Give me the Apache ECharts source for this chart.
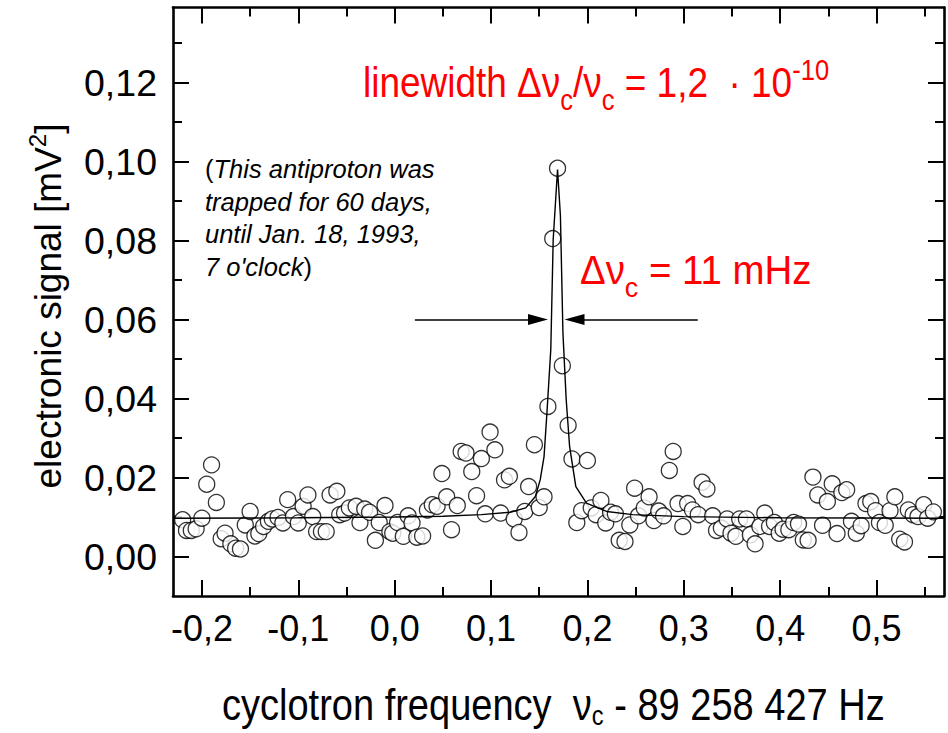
<!DOCTYPE html>
<html>
<head>
<meta charset="utf-8">
<script src="https://cdn.jsdelivr.net/npm/echarts@6/dist/echarts.min.js"></script>
<style>html,body{margin:0;padding:0;background:#fff}#c{width:948px;height:733px}</style>
</head>
<body>
<div id="c"></div>
<script>
// ---- data ----
const frequency = [
-0.220,-0.216,-0.211,-0.206,-0.200,-0.195,-0.190,-0.185,-0.180,-0.176,
-0.170,-0.165,-0.160,-0.155,-0.150,-0.145,-0.141,-0.136,-0.131,-0.127,
-0.121,-0.116,-0.111,-0.105,-0.100,-0.095,-0.090,-0.085,-0.081,-0.076,
-0.071,-0.067,-0.060,-0.057,-0.052,-0.047,-0.040,-0.036,-0.031,-0.026,
-0.020,-0.016,-0.010,-0.005,-0.002,0.003,0.009,0.014,0.018,0.023,
0.029,0.034,0.039,0.044,0.049,0.054,0.059,0.065,0.069,0.074,
0.080,0.085,0.090,0.094,0.099,0.104,0.110,0.114,0.119,0.124,
0.129,0.135,0.139,0.145,0.150,0.155,0.159,0.164,0.169,0.174,
0.180,0.184,0.189,0.194,0.200,0.204,0.209,0.214,0.219,0.224,
0.229,0.233,0.239,0.244,0.249,0.253,0.259,0.264,0.269,0.274,
0.279,0.285,0.289,0.294,0.299,0.304,0.309,0.315,0.319,0.324,
0.330,0.334,0.339,0.345,0.349,0.354,0.358,0.365,0.369,0.374,
0.379,0.384,0.389,0.394,0.399,0.403,0.409,0.414,0.419,0.424,
0.429,0.434,0.439,0.444,0.449,0.454,0.459,0.464,0.469,0.474,
0.479,0.484,0.489,0.494,0.499,0.503,0.509,0.514,0.519,0.524,
0.529,0.533,0.538,0.543,0.549,0.553,0.559
];
const signal = [
0.0093,0.0066,0.0066,0.0070,0.0097,0.0183,0.0232,0.0137,0.0045,0.0059,
0.0032,0.0021,0.0019,0.0080,0.0114,0.0052,0.0058,0.0076,0.0089,0.0095,
0.0099,0.0085,0.0144,0.0101,0.0085,0.0127,0.0156,0.0101,0.0063,0.0063,
0.0063,0.0156,0.0165,0.0106,0.0110,0.0123,0.0127,0.0086,0.0120,0.0112,
0.0041,0.0086,0.0129,0.0063,0.0059,0.0086,0.0051,0.0103,0.0085,0.0049,
0.0052,0.0118,0.0131,0.0127,0.0210,0.0151,0.0068,0.0129,0.0266,0.0262,
0.0215,0.0154,0.0248,0.0108,0.0315,0.0270,0.0110,0.0194,0.0203,0.0095,
0.0061,0.0114,0.0177,0.0283,0.0124,0.0151,0.0380,0.0805,0.0983,0.0483,
0.0332,0.0247,0.0086,0.0116,0.0243,0.0123,0.0106,0.0142,0.0085,0.0112,
0.0108,0.0041,0.0038,0.0080,0.0173,0.0103,0.0123,0.0151,0.0091,0.0115,
0.0103,0.0218,0.0266,0.0134,0.0076,0.0134,0.0118,0.0106,0.0188,0.0171,
0.0103,0.0066,0.0072,0.0095,0.0059,0.0051,0.0095,0.0095,0.0055,0.0032,
0.0076,0.0110,0.0076,0.0086,0.0059,0.0069,0.0068,0.0086,0.0082,0.0042,
0.0041,0.0201,0.0156,0.0079,0.0139,0.0184,0.0058,0.0162,0.0169,0.0089,
0.0059,0.0078,0.0134,0.0139,0.0116,0.0086,0.0079,0.0116,0.0151,0.0044,
0.0037,0.0118,0.0106,0.0101,0.0131,0.0097,0.0113
];
// fitted resonance line
const fitFrequency = [-0.23,-0.10,0.00,0.05,0.09,0.12,0.136,0.146,0.151,0.155,0.158,0.162,0.1645,0.169,0.172,0.1746,0.178,0.1815,0.188,0.199,0.22,0.247,0.30,0.40,0.57];
const fitSignal    = [0.0097,0.0098,0.0100,0.0102,0.0106,0.0112,0.0123,0.0152,0.0194,0.0253,0.0364,0.0524,0.0803,0.0980,0.0862,0.0566,0.0397,0.0279,0.0177,0.0135,0.0114,0.0106,0.0101,0.0098,0.0097];
// width arrows (tail x, head x) at height arrowLevel
const arrowLevel = 0.06;
const leftArrow  = [0.021, 0.1487];
const rightArrow = [0.3145, 0.1866];
// axes
const xRange = [-0.23, 0.57];
const yRange = [-0.01, 0.139];
const xMajorTicks = [-0.2,-0.1,0.0,0.1,0.2,0.3,0.4,0.5];
const xMinorTicks = [-0.15,-0.05,0.05,0.15,0.25,0.35,0.45,0.55];
const yMajorTicks = [0.00,0.02,0.04,0.06,0.08,0.10,0.12];
const yMinorTicks = [0.01,0.03,0.05,0.07,0.09,0.11,0.13];
const xTickLabels = ['-0,2','-0,1','0,0','0,1','0,2','0,3','0,4','0,5'];
const yTickLabels = ['0,00','0,02','0,04','0,06','0,08','0,10','0,12'];

const FONT = "'Liberation Sans', Arial, Helvetica, sans-serif";
const RED = '#ff0000';

function axisBase(kind, pos, ticks, len, showLine, labels) {
  const a = {
    type: 'value', position: pos, min: (kind==='x'?xRange:yRange)[0], max: (kind==='x'?xRange:yRange)[1],
    splitLine: {show:false},
    axisLine: {show: showLine, onZero:false, lineStyle:{color:'#000', width:2.6}},
    axisTick: {show:true, inside:true, length:len, customValues: ticks, lineStyle:{color:'#000', width:2}},
    axisLabel: {show:false}
  };
  if (labels) {
    const lbl = kind==='x' ? xTickLabels : yTickLabels;
    a.axisLabel = {
      show:true, customValues: ticks, fontFamily: FONT, fontSize: kind==='x' ? 36 : 37.5, color:'#000',
      margin: kind==='x' ? 14 : 16,
      formatter: function (v) {
        let best = 0, bd = Infinity;
        ticks.forEach(function (t, i) { const d = Math.abs(t - v); if (d < bd) { bd = d; best = i; } });
        return lbl[best];
      }
    };
  }
  return a;
}

const chart = echarts.init(document.getElementById('c'), null, {renderer:'svg'});
const option = {
  animation: false,
  backgroundColor: '#fff',
  grid: {left:173, right:4, top:7.5, bottom:137, containLabel:false},
  xAxis: [
    axisBase('x','bottom',xMajorTicks,16,true,true),
    axisBase('x','bottom',xMinorTicks,9,false,false),
    axisBase('x','top',xMajorTicks,16,true,false),
    axisBase('x','top',xMinorTicks,9,false,false)
  ],
  yAxis: [
    axisBase('y','left',yMajorTicks,16,true,true),
    axisBase('y','left',yMinorTicks,9,false,false),
    axisBase('y','right',yMajorTicks,16,true,false),
    axisBase('y','right',yMinorTicks,9,false,false)
  ],
  series: [
    {
      type:'scatter', name:'signal', xAxisIndex:0, yAxisIndex:0, z:2,
      data: frequency.map(function (f, i) { return [f, signal[i]]; }),
      symbol:'circle', symbolSize:16,
      itemStyle:{color:'#fff', borderColor:'#000', borderWidth:1.3},
      emphasis:{disabled:true}, silent:true
    },
    {
      type:'line', name:'fit', xAxisIndex:0, yAxisIndex:0, z:3,
      data: fitFrequency.map(function (f, i) { return [f, fitSignal[i]]; }),
      showSymbol:false, symbol:'none', smooth:false,
      lineStyle:{color:'#000', width:1.4},
      emphasis:{disabled:true}, silent:true,
      markLine: {
        silent:true, animation:false,
        symbol:['none','triangle'],
        label:{show:false},
        lineStyle:{color:'#000', width:1.6, type:'solid'},
        emphasis:{disabled:true},
        data: [
          [{coord:[leftArrow[0], arrowLevel], symbol:'none'}, {coord:[leftArrow[1], arrowLevel], symbol:'triangle', symbolSize:[11,20]}],
          [{coord:[rightArrow[0], arrowLevel], symbol:'none'}, {coord:[rightArrow[1], arrowLevel], symbol:'triangle', symbolSize:[11,20]}]
        ]
      }
    }
  ],
  graphic: [
    { // y axis title
      type:'text', x:48, y:306, rotation: Math.PI/2, silent:true,
      style:{
        text:'{n|electronic signal [mV}{p|2}{n|]}',
        align:'center', verticalAlign:'middle', fill:'#000',
        rich:{
          n:{fontFamily:FONT, fontSize:37, fill:'#000'},
          p:{fontFamily:FONT, fontSize:24, fill:'#000', padding:[0,0,22,0]}
        }
      }
    },
    { // x axis title
      type:'text', x:222, y:704, scaleX:0.845, silent:true,
      style:{
        text:'{n|cyclotron frequency  ν}{s|c}{n| - 89 258 427 Hz}',
        align:'left', verticalAlign:'middle', fill:'#000',
        rich:{
          n:{fontFamily:FONT, fontSize:45, fill:'#000'},
          s:{fontFamily:FONT, fontSize:28, fill:'#000', padding:[22,0,0,0]}
        }
      }
    },
    { // red linewidth title
      type:'text', x:363, y:82, scaleX:0.88, silent:true,
      style:{
        text:'{n|linewidth Δν}{s|c}{n|/ν}{s|c}{n| = 1,2  · 10}{p|-10}',
        align:'left', verticalAlign:'middle', fill:RED,
        rich:{
          n:{fontFamily:FONT, fontSize:42, fill:RED},
          s:{fontFamily:FONT, fontSize:29, fill:RED, padding:[36,0,0,0]},
          p:{fontFamily:FONT, fontSize:29, fill:RED, padding:[0,0,24,0]}
        }
      }
    },
    { // red delta nu annotation
      type:'text', x:580, y:270, scaleX:0.96, silent:true,
      style:{
        text:'{n|Δν}{s|c}{n| = 11 mHz}',
        align:'left', verticalAlign:'middle', fill:RED,
        rich:{
          n:{fontFamily:FONT, fontSize:40, fill:RED},
          s:{fontFamily:FONT, fontSize:28, fill:RED, padding:[34,0,0,0]}
        }
      }
    },
    { // black italic note
      type:'text', x:205, y:153, silent:true,
      style:{
        text:'{u|(}{i|This antiproton was}\n{i|trapped for 60 days,}\n{i|until Jan. 18, 1993,}\n{i|7 o\'clock}{u|)}',
        align:'left', verticalAlign:'top', fill:'#000',
        rich:{
          i:{fontFamily:FONT, fontSize:25.5, fontStyle:'italic', fill:'#000', lineHeight:32.5},
          u:{fontFamily:FONT, fontSize:25.5, fill:'#000', lineHeight:32.5}
        }
      }
    }
  ]
};
chart.setOption(option);
</script>
</body>
</html>
